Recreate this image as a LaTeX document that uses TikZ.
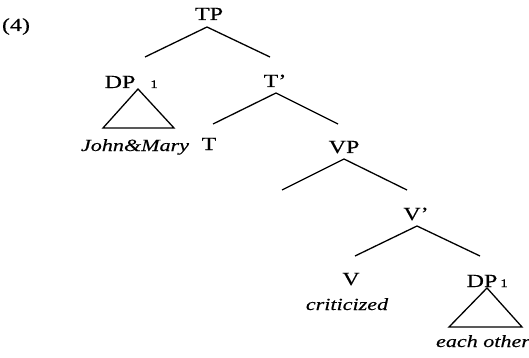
\documentclass[tikz,border=0pt]{standalone}
\usepackage{fontspec}
\setmainfont[FakeStretch=1.3,FakeBold=0.3]{Liberation Serif}
\tikzset{
  lab/.style={anchor=base, inner sep=0pt, font=\fontsize{18.5}{20}\selectfont},
  leaf/.style={anchor=base, inner sep=0pt, font=\fontsize{17}{19}\selectfont\itshape},
  sub/.style={anchor=base, inner sep=0pt, font=\fontsize{11.5}{12}\selectfont},
  branch/.style={line width=1.3pt, line join=miter},
}
\begin{document}
\begin{tikzpicture}[x=1pt,y=-1pt]
\useasboundingbox (0,0) rectangle (529,358);
% labels
\node[lab] (ex) at (16,31) {(4)};
\node[lab] (tp) at (209,20) {TP};
\node[lab] (dpa) at (120,88) {DP};
\node[sub] (dpas) at (154,88) {1};
\node[lab] (tbar) at (275,87) {T’};
\node[lab] (t) at (209,150) {T};
\node[leaf] (jm) at (135,151) {John\&Mary};
\node[lab] (vp) at (344,153) {VP};
\node[lab] (vbar) at (416,220) {V’};
\node[lab] (v) at (351,285) {V};
\node[leaf] (crit) at (347,310) {criticized};
\node[lab] (dpb) at (482,287) {DP};
\node[sub] (dpbs) at (504,287) {1};
\node[leaf] (eo) at (483,347) {each other};
% branch points
\coordinate (tpA) at (207,27);
\coordinate (tpL) at (145,57);
\coordinate (tpR) at (270,57);
\coordinate (tbA) at (276,93);
\coordinate (tbL) at (213,124);
\coordinate (tbR) at (338,124);
\coordinate (vpA) at (344,159);
\coordinate (vpL) at (282,190);
\coordinate (vpR) at (407,190);
\coordinate (vbA) at (417,226);
\coordinate (vbL) at (355,256);
\coordinate (vbR) at (480,256);
\coordinate (triA) at (138,89);
\coordinate (triL) at (103,128);
\coordinate (triR) at (174,128);
\coordinate (trbA) at (487,288);
\coordinate (trbL) at (449,327);
\coordinate (trbR) at (522,327);
% branches
\draw[branch] (tpL) -- (tpA) -- (tpR);
\draw[branch] (tbL) -- (tbA) -- (tbR);
\draw[branch] (vpL) -- (vpA) -- (vpR);
\draw[branch] (vbL) -- (vbA) -- (vbR);
\draw[branch] (triA) -- (triL) -- (triR) -- cycle;
\draw[branch] (trbA) -- (trbL) -- (trbR) -- cycle;
\end{tikzpicture}
\end{document}
